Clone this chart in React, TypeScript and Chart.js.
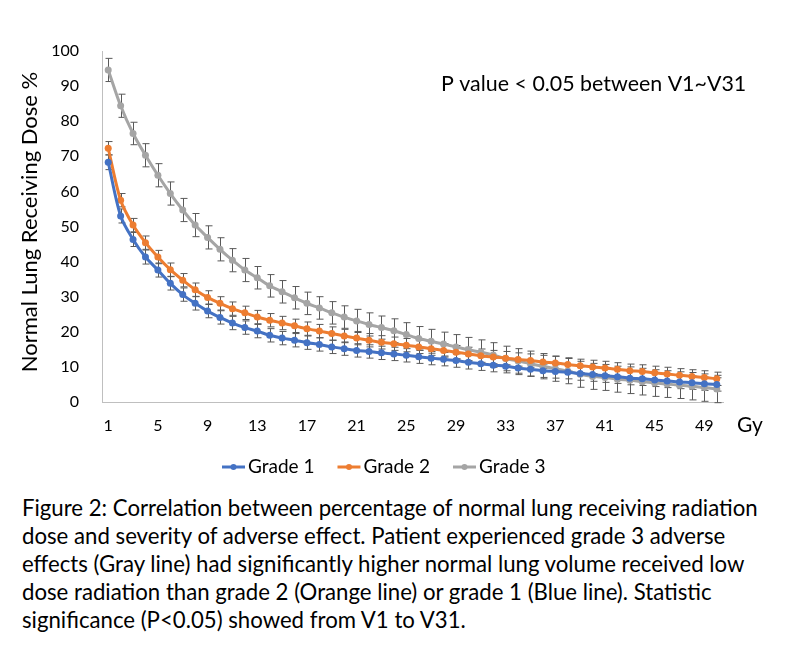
import { useEffect, useRef } from "react"
import { Chart, registerables } from "chart.js"

Chart.register(...registerables)

const doses = [
  1, 2, 3, 4, 5, 6, 7, 8, 9, 10, 11, 12, 13, 14, 15, 16, 17, 18, 19, 20, 21, 22, 23, 24, 25,
  26, 27, 28, 29, 30, 31, 32, 33, 34, 35, 36, 37, 38, 39, 40, 41, 42, 43, 44, 45, 46, 47, 48, 49, 50,
]
const shownDoses = [1, 5, 9, 13, 17, 21, 25, 29, 33, 37, 41, 45, 49]

const grade1 = [
  68.3, 53.0, 46.3, 41.3, 37.6, 33.8, 30.6, 28.1, 25.9, 24.1, 22.5, 21.2, 20.2, 19.0, 18.2, 17.6, 16.9,
  16.4, 15.7, 15.2, 14.7, 14.4, 14.0, 13.7, 13.3, 12.9, 12.5, 12.2, 11.8, 11.3, 10.9, 10.5, 10.2, 9.7,
  9.3, 8.9, 8.7, 8.5, 8.1, 7.8, 7.5, 7.2, 6.8, 6.6, 6.3, 6.0, 5.7, 5.5, 5.2, 5.0,
]
const grade2 = [
  72.3, 57.5, 50.4, 45.4, 41.3, 37.7, 34.7, 32.0, 29.8, 28.1, 26.6, 25.4, 24.2, 23.3, 22.5, 21.7, 20.9,
  20.2, 19.5, 18.8, 18.2, 17.6, 17.0, 16.6, 16.2, 15.7, 15.2, 14.7, 14.2, 13.7, 13.2, 12.8, 12.5, 12.1,
  11.8, 11.4, 11.1, 10.7, 10.3, 10.0, 9.7, 9.3, 8.9, 8.7, 8.3, 8.0, 7.6, 7.3, 7.0, 6.6,
]
const grade3 = [
  94.6, 84.4, 76.5, 70.3, 64.6, 59.4, 54.7, 50.4, 46.9, 43.5, 40.4, 37.6, 35.4, 33.1, 31.4, 29.7, 28.1,
  26.8, 25.4, 24.2, 23.1, 22.1, 21.2, 20.3, 19.2, 18.1, 17.3, 16.5, 15.7, 14.9, 14.2, 13.4, 12.4, 11.7,
  10.9, 10.2, 9.5, 8.8, 7.9, 7.3, 7.0, 6.5, 6.2, 5.8, 5.4, 5.1, 4.8, 4.5, 4.1, 3.7,
]

// error bar half-widths
const grade1Err = [
  2.1, 2.0, 2.0, 2.0, 2.0, 1.9, 1.9, 1.9, 1.9, 1.9, 1.9, 1.9, 1.9, 1.9, 1.9, 1.9, 1.9, 1.9, 1.9, 1.9,
  1.9, 1.9, 1.9, 1.9, 1.9, 1.9, 1.9, 1.9, 1.9, 1.9, 1.9, 1.9, 1.9, 1.9, 1.9, 1.9, 1.9, 1.9, 1.9, 1.9,
  1.9, 1.9, 1.9, 1.9, 1.9, 1.9, 1.9, 1.9, 1.9, 1.9,
]
const grade2Err = [
  1.9, 1.9, 1.9, 1.9, 1.9, 1.9, 1.9, 1.9, 1.9, 1.9, 1.9, 1.9, 1.9, 1.9, 1.9, 1.9, 1.9, 1.9, 1.9, 1.9,
  1.9, 1.9, 1.9, 1.9, 1.9, 1.9, 1.9, 1.9, 1.9, 1.9, 1.9, 1.9, 1.9, 1.9, 1.9, 1.9, 1.9, 1.9, 1.9, 1.9,
  1.9, 1.9, 1.9, 1.9, 1.9, 1.9, 1.9, 1.9, 1.9, 1.9,
]
const grade3Err = [
  3.3, 3.3, 3.2, 3.3, 3.3, 3.3, 3.3, 3.3, 3.3, 3.3, 3.3, 3.3, 3.2, 3.2, 3.2, 3.2, 3.2, 3.2, 3.2, 3.2,
  3.3, 3.3, 3.3, 3.4, 3.4, 3.4, 3.4, 3.4, 3.5, 3.5, 3.5, 3.5, 3.5, 3.5, 3.6, 3.6, 3.6, 3.6, 3.7, 3.7,
  3.7, 3.7, 3.8, 3.8, 3.8, 3.8, 3.8, 3.9, 3.9, 3.9,
]

const seriesNames = ["Grade 1", "Grade 2", "Grade 3"]
const seriesColors = ["#4472C4", "#ED7D31", "#A5A5A5"]
const seriesValues = [grade1, grade2, grade3]
const seriesErrors = [grade1Err, grade2Err, grade3Err]

const FONT = "Lato, 'Open Sans', sans-serif"

const extrasPlugin = {
  id: "extras",
  beforeDatasetsDraw(chart: Chart) {
    const { ctx } = chart
    const xs = chart.scales.x
    const ys = chart.scales.y
    ctx.save()
    ctx.strokeStyle = "#595959"
    ctx.lineWidth = 1
    seriesValues.forEach((vals, s) => {
      vals.forEach((v, i) => {
        const e = seriesErrors[s][i]
        const px = Math.round(xs.getPixelForValue(i)) + 0.5
        const top = ys.getPixelForValue(v + e)
        const bot = ys.getPixelForValue(v - e)
        ctx.beginPath()
        ctx.moveTo(px, top)
        ctx.lineTo(px, bot)
        ctx.moveTo(px - 3, top)
        ctx.lineTo(px + 4, top)
        ctx.moveTo(px - 3, bot)
        ctx.lineTo(px + 4, bot)
        ctx.stroke()
      })
    })
    ctx.restore()
  },
  afterDraw(chart: Chart) {
    const { ctx } = chart
    ctx.save()
    ctx.fillStyle = "#000"

    // y axis title
    ctx.save()
    ctx.translate(30, 222)
    ctx.rotate(-Math.PI / 2)
    ctx.font = `22px ${FONT}`
    ctx.textAlign = "center"
    ctx.textBaseline = "middle"
    ctx.fillText("Normal Lung Receiving Dose %", 0, 0)
    ctx.restore()

    // x axis title at the right end
    ctx.font = `21px ${FONT}`
    ctx.textAlign = "left"
    ctx.textBaseline = "alphabetic"
    ctx.fillText("Gy", 737, 432)

    // annotation
    ctx.font = `21.4px ${FONT}`
    ctx.fillText("P value < 0.05 between V1~V31", 441, 91)

    // legend
    ctx.font = `19px ${FONT}`
    ctx.textBaseline = "middle"
    let lx = 222
    const ly = 467
    seriesNames.forEach((name, s) => {
      ctx.strokeStyle = seriesColors[s]
      ctx.lineWidth = 3
      ctx.beginPath()
      ctx.moveTo(lx, ly)
      ctx.lineTo(lx + 23, ly)
      ctx.stroke()
      ctx.fillStyle = seriesColors[s]
      ctx.beginPath()
      ctx.arc(lx + 11.5, ly, 3, 0, Math.PI * 2)
      ctx.fill()
      ctx.fillStyle = "#000"
      ctx.fillText(name, lx + 26, ly)
      lx += 26 + ctx.measureText(name).width + 23
    })
    ctx.restore()
  },
}

export default function App() {
  const chartRef = useRef<HTMLCanvasElement>(null)
  const chartInstance = useRef<Chart | null>(null)

  useEffect(() => {
    document.body.style.margin = "0"
    if (!chartRef.current) return
    if (chartInstance.current) chartInstance.current.destroy()
    const ctx = chartRef.current.getContext("2d")
    if (!ctx) return

    chartInstance.current = new Chart(ctx, {
      type: "line",
      data: {
        labels: doses.map(String),
        datasets: seriesNames.map((name, s) => ({
          label: name,
          data: seriesValues[s],
          borderColor: seriesColors[s],
          backgroundColor: seriesColors[s],
          borderWidth: 3,
          pointRadius: 3.5,
          pointBorderWidth: 0,
          pointBackgroundColor: seriesColors[s],
          tension: 0.3,
        })),
      },
      options: {
        responsive: false,
        animation: false,
        layout: { padding: { top: 51, right: 77, bottom: 0, left: 0 } },
        scales: {
          x: {
            offset: true,
            grid: { display: false, drawTicks: false },
            border: { display: true, color: "#BFBFBF", width: 1 },
            afterFit: (scale) => {
              scale.height = 88
            },
            ticks: {
              autoSkip: false,
              maxRotation: 0,
              padding: 14,
              color: "#000",
              font: { family: FONT, size: 16 },
              callback: (_v, i) => (shownDoses.includes(doses[i]) ? String(doses[i]) : ""),
            },
          },
          y: {
            min: 0,
            max: 100,
            grid: { display: false, drawTicks: false },
            border: { display: true, color: "#BFBFBF", width: 1 },
            afterFit: (scale) => {
              scale.width = 102
            },
            ticks: {
              stepSize: 10,
              padding: 23,
              color: "#000",
              font: { family: FONT, size: 16 },
            },
          },
        },
        plugins: {
          legend: { display: false },
          tooltip: { enabled: false },
        },
      },
      plugins: [extrasPlugin],
    })

    return () => {
      if (chartInstance.current) {
        chartInstance.current.destroy()
        chartInstance.current = null
      }
    }
  }, [])

  return (
    <div style={{ width: 800, background: "#fff" }}>
      <div style={{ width: 800, height: 490 }}>
        <canvas ref={chartRef} width={800} height={490} style={{ display: "block" }} />
      </div>
      <div
        style={{
          marginTop: 4,
          paddingLeft: 22,
          fontFamily: FONT,
          fontSize: 22.2,
          lineHeight: "28px",
          whiteSpace: "nowrap",
          color: "#000",
        }}
      >
        Figure 2: Correlation between percentage of normal lung receiving radiation
        <br />
        dose and severity of adverse effect. Patient experienced grade 3 adverse
        <br />
        effects (Gray line) had significantly higher normal lung volume received low
        <br />
        dose radiation than grade 2 (Orange line) or grade 1 (Blue line). Statistic
        <br />
        significance (P&lt;0.05) showed from V1 to V31.
      </div>
    </div>
  )
}
